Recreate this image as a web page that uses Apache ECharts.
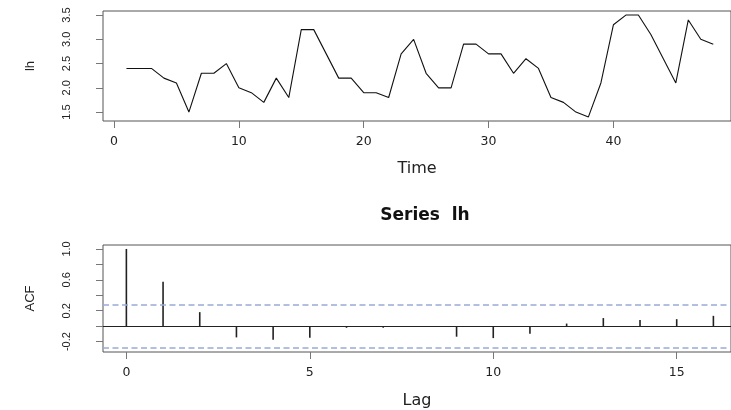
<!DOCTYPE html>
<html>
<head>
<meta charset="utf-8">
<script src="https://cdn.jsdelivr.net/npm/echarts@6/dist/echarts.min.js"></script>
<style>html,body{margin:0;padding:0;background:#fff}#c{width:731px;height:410px}</style>
</head>
<body>
<div id="c"></div>
<script>
// Series lh (48 observations)
var lhValues = [2.4,2.4,2.4,2.2,2.1,1.5,2.3,2.3,2.5,2.0,1.9,1.7,2.2,1.8,3.2,3.2,2.7,2.2,2.2,1.9,
                1.9,1.8,2.7,3.0,2.3,2.0,2.0,2.9,2.9,2.7,2.7,2.3,2.6,2.4,1.8,1.7,1.5,1.4,2.1,3.3,
                3.5,3.5,3.1,2.6,2.1,3.4,3.0,2.9];
// ACF
var lags = [0,1,2,3,4,5,6,7,8,9,10,11,12,13,14,15,16];
var acfValues = [1.000,0.576,0.182,-0.145,-0.175,-0.150,-0.021,-0.020,-0.004,-0.136,-0.154,-0.097,0.034,0.105,0.079,0.091,0.134];
var confLimit = 0.2829;
// tick labels
var timeTicks = [0,10,20,30,40];
var lhTicks = [1.5,2.0,2.5,3.0,3.5];
var lagTicks = [0,5,10,15];
var acfTickMarks = [-0.2,0,0.2,0.4,0.6,0.8,1.0];
var acfTickLabels = [-0.2,0.2,0.6,1.0];

var boxColor = '#555';
var tickColor = '#777';
var hFont = 'DejaVu Sans';
var vFont = 'Liberation Sans';

var lineData = lhValues.map(function(v,i){return [i+1, v];});
var acfData = lags.map(function(l,i){return [l, acfValues[i]];});

var chart = echarts.init(document.getElementById('c'), null, {renderer:'canvas'});
chart.setOption({
  animation:false,
  backgroundColor:'#fff',
  title:{
    text:'Series  lh', left:420, top:202, textAlign:'center',
    textStyle:{fontFamily:hFont, fontWeight:'bold', fontSize:17, color:'#111'}
  },
  grid:[
    {left:103, top:11, width:629, height:110, show:true, borderColor:boxColor, borderWidth:1, backgroundColor:'transparent'},
    {left:103, top:245, width:629, height:109, show:true, borderColor:boxColor, borderWidth:1, backgroundColor:'transparent'}
  ],
  xAxis:[
    {type:'value', gridIndex:0, min:-0.88, max:49.42,
     name:'Time', nameLocation:'middle', nameGap:40,
     nameTextStyle:{fontFamily:hFont, fontSize:16, color:'#222'},
     axisLine:{show:false, onZero:false}, splitLine:{show:false},
     axisTick:{show:true, length:7, customValues:timeTicks, lineStyle:{color:tickColor}},
     axisLabel:{customValues:timeTicks, margin:14, fontFamily:hFont, fontSize:12.5, color:'#222'}},
    {type:'value', gridIndex:1, min:-0.637, max:16.48,
     name:'Lag', nameLocation:'middle', nameGap:41,
     nameTextStyle:{fontFamily:hFont, fontSize:16, color:'#222'},
     axisLine:{show:false, onZero:false}, splitLine:{show:false},
     axisTick:{show:true, length:7, customValues:lagTicks, lineStyle:{color:tickColor}},
     axisLabel:{customValues:lagTicks, margin:14, fontFamily:hFont, fontSize:12.5, color:'#222'}}
  ],
  yAxis:[
    {type:'value', gridIndex:0, min:1.316, max:3.584,
     name:'lh', nameLocation:'middle', nameGap:66,
     nameTextStyle:{fontFamily:vFont, fontSize:13, color:'#222'},
     axisLine:{show:false, onZero:false}, splitLine:{show:false},
     axisTick:{show:true, length:7, customValues:lhTicks, lineStyle:{color:tickColor}},
     axisLabel:{customValues:lhTicks, rotate:90, margin:31, fontFamily:vFont, fontSize:11, color:'#222',
                formatter:function(v){return v.toFixed(1);}}},
    {type:'value', gridIndex:1, min:-0.334, max:1.051,
     name:'ACF', nameLocation:'middle', nameGap:66,
     nameTextStyle:{fontFamily:vFont, fontSize:13, color:'#222'},
     axisLine:{show:false, onZero:false}, splitLine:{show:false},
     axisTick:{show:true, length:7, customValues:acfTickMarks, lineStyle:{color:tickColor}},
     axisLabel:{customValues:acfTickLabels, rotate:90, margin:31, fontFamily:vFont, fontSize:11, color:'#222',
                formatter:function(v){return v.toFixed(1);}}}
  ],
  series:[
    {type:'line', xAxisIndex:0, yAxisIndex:0, data:lineData, symbol:'none',
     lineStyle:{color:'#111', width:1.1}},
    {type:'bar', xAxisIndex:1, yAxisIndex:1, data:acfData, barWidth:1.6,
     itemStyle:{color:'#222'},
     markLine:{silent:true, symbol:'none', label:{show:false},
       data:[
         {yAxis:0, lineStyle:{color:'#222', width:1, type:'solid'}},
         {yAxis:confLimit, lineStyle:{color:'#9aaad8', width:1.5, type:[6,3.5]}},
         {yAxis:-confLimit, lineStyle:{color:'#9aaad8', width:1.5, type:[6,3.5]}}
       ]}}
  ]
});
</script>
</body>
</html>
